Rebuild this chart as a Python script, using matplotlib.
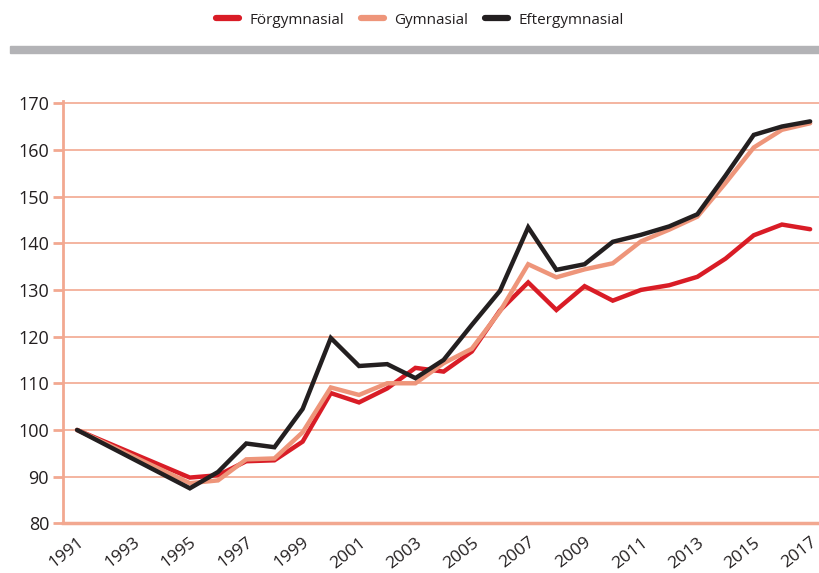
import matplotlib
matplotlib.use("Agg")
import matplotlib.pyplot as plt
from matplotlib.patches import Rectangle
from matplotlib.lines import Line2D

plt.rcParams['font.family'] = ['Open Sans', 'DejaVu Sans']

# Index 1991 = 100
years = [1991, 1995, 1996, 1997, 1998, 1999, 2000, 2001, 2002, 2003, 2004,
         2005, 2006, 2007, 2008, 2009, 2010, 2011, 2012, 2013, 2014, 2015,
         2016, 2017]
forgymnasial = [100, 89.8, 90.3, 93.3, 93.5, 97.5, 107.9, 105.9, 108.9, 113.3,
                112.5, 116.8, 125.6, 131.6, 125.7, 130.8, 127.7, 130.0, 131.0,
                132.8, 136.7, 141.7, 144.0, 143.0]
gymnasial = [100, 88.6, 89.2, 93.7, 93.9, 99.5, 109.1, 107.5, 110.0, 110.0,
             114.3, 117.4, 125.4, 135.5, 132.7, 134.4, 135.7, 140.4, 142.9,
             145.7, 152.9, 160.5, 164.3, 165.7]
eftergymnasial = [100, 87.5, 91.0, 97.1, 96.3, 104.5, 119.7, 113.7, 114.1,
                  111.1, 115.0, 122.5, 129.8, 143.4, 134.3, 135.5, 140.3,
                  141.8, 143.6, 146.2, 154.5, 163.2, 165.0, 166.1]

series = ['Förgymnasial', 'Gymnasial', 'Eftergymnasial']
colors = ['#d91c26', '#ee957a', '#231f20']
xtick_years = list(range(1991, 2018, 2))
yticks = list(range(80, 171, 10))

grid_col = '#f2a890'

fig = plt.figure(figsize=(8.2, 5.73), dpi=100)
ax = fig.add_axes([0.0768, 0.0867, 0.9232, 0.7365])

for name, vals, c in zip(series, [forgymnasial, gymnasial, eftergymnasial], colors):
    ax.plot(years, vals, color=c, lw=3.2, solid_joinstyle='miter',
            solid_capstyle='round', label=name, zorder=3)

ax.set_xlim(1990.5, 2017.35)
ax.set_ylim(80, 170.4)
ax.set_yticks(yticks)
ax.set_xticks(xtick_years)
ax.set_xticklabels([str(y) for y in xtick_years], rotation=38, ha='right',
                   rotation_mode='anchor', fontsize=12.5, color='#231f20')
ax.tick_params(axis='x', length=0, pad=8)
ax.tick_params(axis='y', length=7, width=2, color=grid_col, labelsize=13,
               labelcolor='#231f20', pad=3)

ax.grid(axis='y', color=grid_col, lw=1.2, zorder=1)
for s in ['top', 'right']:
    ax.spines[s].set_visible(False)
ax.spines['left'].set_color(grid_col)
ax.spines['left'].set_linewidth(2)
ax.spines['bottom'].set_color(grid_col)
ax.spines['bottom'].set_linewidth(2.5)

# grey band under legend
fig.patches.append(Rectangle((10 / 820, 1 - 53 / 573), 810 / 820, 7 / 573,
                             transform=fig.transFigure, color='#b3b3b6',
                             zorder=0))

handles = [Line2D([0], [0], color=c, lw=4.5, solid_capstyle='round') for c in colors]
fig.legend(handles, series, loc='center', bbox_to_anchor=(420 / 820, 1 - 20 / 573),
           ncol=3, frameon=False, fontsize=11, handlelength=1.5,
           handletextpad=0.7, columnspacing=1.1, labelcolor='#231f20')

fig.savefig('out.png', dpi=100)
